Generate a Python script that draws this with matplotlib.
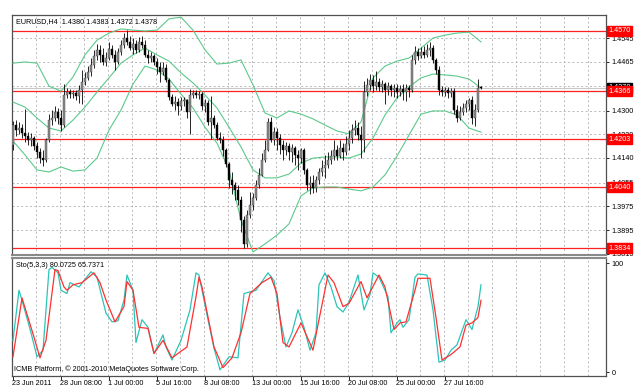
import matplotlib
matplotlib.use("Agg")
import matplotlib.pyplot as plt
import matplotlib.transforms as mtransforms
import numpy as np

plt.rcParams['font.family'] = ['Liberation Sans', 'DejaVu Sans']

# ---- EURUSD H4 candles (prices in pips, 1 pip = 0.0001) ----
opens = [14183,14251,14234,14241,14224,14214,14200,14207,14180,14160,14139,14133,14200,14268,14275,14295,14275,14251,14353,14363,
         14356,14360,14350,14370,14397,14411,14431,14455,14485,14506,14489,14465,14478,14509,14489,14465,14499,14522,14546,14533,
         14512,14526,14506,14533,14522,14489,14478,14485,14465,14448,14431,14444,14404,14346,14322,14329,14316,14333,14336,14295,
         14353,14360,14353,14356,14316,14326,14261,14275,14251,14207,14200,14166,14119,14065,14048,14031,13997,13929,13848,13946,
         13980,14004,14048,14082,14133,14166,14261,14200,14227,14207,14183,14166,14180,14160,14173,14150,14139,14166,14099,14048,
         14055,14038,14065,14092,14105,14116,14133,14146,14166,14146,14173,14160,14187,14207,14234,14241,14217,14200,14363,14387,
         14404,14383,14397,14380,14390,14370,14383,14370,14377,14363,14373,14363,14377,14370,14472,14499,14485,14499,14489,14506,
         14512,14472,14438,14370,14363,14370,14360,14366,14302,14275,14295,14309,14322,14336,14275,14302,14380]
highs = [14265,14268,14261,14255,14305,14227,14224,14214,14194,14173,14166,14207,14288,14302,14316,14309,14302,14390,14377,14373,
         14370,14370,14387,14438,14431,14451,14478,14506,14526,14522,14512,14499,14533,14522,14506,14512,14539,14563,14573,14553,
         14546,14539,14550,14553,14539,14506,14499,14492,14478,14465,14465,14458,14411,14356,14350,14343,14346,14346,14339,14373,
         14370,14370,14366,14363,14339,14336,14350,14285,14261,14227,14214,14173,14126,14092,14058,14048,14011,13943,13963,14024,
         14021,14065,14105,14156,14200,14275,14278,14244,14241,14221,14200,14194,14190,14187,14180,14166,14173,14173,14105,14078,
         14082,14078,14105,14133,14150,14160,14166,14200,14183,14200,14190,14214,14234,14255,14268,14261,14248,14400,14411,14424,
         14421,14434,14411,14404,14397,14397,14390,14390,14390,14387,14390,14390,14387,14489,14519,14512,14516,14519,14526,14533,
         14522,14478,14451,14383,14380,14380,14377,14377,14319,14316,14326,14336,14343,14350,14322,14407,14383]
lows = [14166,14214,14221,14207,14194,14183,14180,14166,14139,14122,14112,14126,14194,14251,14265,14255,14231,14244,14343,14343,
        14343,14336,14326,14322,14387,14404,14417,14444,14472,14465,14455,14451,14472,14478,14438,14458,14489,14512,14522,14506,
        14492,14495,14499,14512,14482,14461,14465,14455,14424,14397,14421,14397,14336,14316,14302,14285,14302,14316,14275,14221,
        14343,14343,14339,14302,14295,14251,14204,14241,14200,14190,14146,14109,14038,14017,13997,13980,13889,13834,13838,13936,
        13963,13997,14038,14078,14126,14163,14194,14183,14166,14153,14133,14150,14133,14126,14116,14099,14122,14085,14031,14017,
        14021,14024,14051,14078,14072,14105,14119,14133,14133,14139,14133,14150,14166,14190,14217,14200,14139,14160,14350,14370,
        14363,14370,14366,14363,14322,14353,14350,14346,14343,14350,14336,14333,14346,14363,14458,14472,14478,14478,14482,14485,
        14461,14424,14353,14350,14350,14343,14346,14288,14261,14268,14285,14295,14302,14255,14248,14295,14372]
closes = [14251,14234,14241,14224,14214,14200,14207,14180,14160,14139,14133,14200,14268,14275,14295,14275,14251,14353,14363,14356,
          14360,14350,14370,14397,14411,14431,14455,14485,14506,14489,14465,14478,14509,14489,14465,14499,14522,14546,14533,14512,
          14526,14506,14533,14522,14489,14478,14485,14465,14448,14431,14444,14404,14346,14322,14329,14316,14333,14336,14295,14353,
          14360,14353,14356,14316,14326,14261,14275,14251,14207,14200,14166,14119,14065,14048,14031,13997,13929,13848,13946,13980,
          14004,14048,14082,14133,14166,14261,14200,14227,14207,14183,14166,14180,14160,14173,14150,14139,14166,14099,14048,14055,
          14038,14065,14092,14105,14116,14133,14146,14166,14146,14173,14160,14187,14207,14234,14241,14217,14200,14363,14387,14404,
          14383,14397,14380,14390,14370,14383,14370,14377,14363,14373,14363,14377,14370,14472,14499,14485,14499,14489,14506,14512,
          14472,14438,14370,14363,14370,14360,14366,14302,14275,14295,14309,14322,14336,14275,14302,14377,14378]

# ---- Bollinger bands read every 4 bars (pips) ----
bb_idx = list(range(0, 157, 4))
bb_upper = [14461,14465,14461,14383,14366,14414,14489,14539,14563,14577,14573,14570,14573,14611,14617,14573,14506,14458,14461,14472,
            14387,14292,14275,14299,14288,14272,14251,14231,14221,14261,14411,14451,14468,14478,14512,14546,14556,14563,14566,14533]
bb_middle = [14329,14312,14275,14241,14231,14268,14312,14363,14411,14461,14489,14512,14489,14468,14428,14394,14353,14309,14244,14177,
             14099,14072,14072,14085,14122,14139,14143,14143,14139,14153,14207,14285,14343,14380,14411,14424,14421,14417,14407,14377]
bb_lower = [14197,14150,14099,14092,14109,14095,14099,14139,14234,14302,14390,14451,14438,14407,14356,14309,14244,14190,14099,13929,
            13821,13848,13878,13916,14011,14038,14041,14041,14034,14028,14041,14082,14146,14217,14288,14299,14299,14285,14241,14227]

# ---- Stochastic (5,3,3) key points ----
k_idx = [0,2,3,6,8,10,12,13,15,16,18,19,22,26,28,31,33,35,37,38,40,41,43,45,47,50,51,53,56,59,61,62,65,67,69,72,75,77,81,85,87,89,
         91,93,95,97,99,101,102,104,106,108,110,112,115,117,119,120,122,125,126,128,129,130,132,134,135,138,140,142,144,146,148,151,153,155,156]
k_val = [29,75,66,36,14,20,94,96,91,75,72,82,78,92,87,54,46,47,66,89,75,27,48,41,17,34,23,11,29,57,91,89,48,22,2,14,13,72,75,91,84,50,
         23,36,57,41,20,36,80,91,78,60,55,64,89,57,71,91,87,69,36,45,48,41,48,87,90,89,57,9,11,20,25,48,39,60,80.07]
d_idx = [0,3,7,9,11,14,15,17,18,20,23,27,29,31,34,37,38,40,42,45,47,50,53,58,61,62,63,67,70,73,76,79,83,86,88,90,92,96,100,102,105,107,
         110,112,116,118,122,124,127,129,131,134,135,139,141,143,146,149,151,153,155,156]
d_val = [14,68,32,13,29,94,93,78,75,80,82,91,82,66,46,60,83,75,41,40,17,29,13,23,69,87,78,23,4,13,36,72,82,87,72,27,23,45,20,48,89,82,
         60,63,83,68,89,78,39,45,46,75,86,86,50,11,16,23,43,45,50,65.74]

# ---- levels and axis labels ----
levels = [1.4570, 1.4366, 1.4203, 1.4040, 1.3834]
price_ticks = [1.4545, 1.4465, 1.4385, 1.4300, 1.4220, 1.4140, 1.4055, 1.3975, 1.3895, 1.3815]
price_labels = ["1.4545", "1.4465", "", "1.4300", "1.4220", "1.4140", "1.4055", "1.3975", "1.3895", "1.3815"]
last_price = 1.4378
date_pos = [0, 16, 32, 48, 64, 80, 96, 112, 128, 144]
date_labels = ["23 Jun 2011", "28 Jun 08:00", "1 Jul 00:00", "5 Jul 16:00", "8 Jul 08:00",
               "13 Jul 00:00", "15 Jul 16:00", "20 Jul 08:00", "25 Jul 00:00", "27 Jul 16:00"]

o = np.array(opens) / 1e4
h = np.array(highs) / 1e4
l = np.array(lows) / 1e4
c = np.array(closes) / 1e4
x = np.arange(len(c))

W, H = 640, 392
fig = plt.figure(figsize=(6.4, 3.92), dpi=100)
fig.patch.set_facecolor('white')
ax = fig.add_axes([12 / W, 1 - 255 / H, 594 / W, 240 / H])
sub = fig.add_axes([12 / W, 1 - 376 / H, 594 / W, 118 / H])

XMIN, XMAX = -0.33, 197.67
FS = 5.2
grid_kw = dict(color='#b8b8b8', lw=0.7, ls=(0, (2, 2.5)), zorder=0)
vgrid = [8 * k - 0.33 for k in range(1, 25)]

# main pane
ax.set_xlim(XMIN, XMAX)
ax.set_ylim(1.381055, 1.46242)
for gx in vgrid:
    ax.axvline(gx, **grid_kw)
for gy in price_ticks:
    ax.axhline(gy, **grid_kw)

ax.axhline(last_price, color='#c8c8c8', lw=0.8, zorder=1)
for lv in levels:
    ax.axhline(lv, color='#ff2020', lw=0.9, zorder=2)

bb_x = np.array(bb_idx)
green = '#5cc98a'
ax.plot(bb_x, np.array(bb_upper) / 1e4, color=green, lw=0.8, zorder=3)
ax.plot(bb_x, np.array(bb_middle) / 1e4, color=green, lw=0.8, zorder=3)
ax.plot(bb_x, np.array(bb_lower) / 1e4, color=green, lw=0.8, zorder=3)

ax.vlines(x, l, h, color='black', lw=0.6, zorder=4)
bull = c >= o
body_bot = np.minimum(o, c)
body_h = np.maximum(np.abs(c - o), 0.00008)
ax.bar(x[bull], body_h[bull], bottom=body_bot[bull], width=0.7, color='#8c8c8c',
       edgecolor='#404040', lw=0.3, zorder=5)
ax.bar(x[~bull], body_h[~bull], bottom=body_bot[~bull], width=0.7, color='black',
       edgecolor='black', lw=0.3, zorder=5)

ax.yaxis.tick_right()
ax.set_yticks(price_ticks)
ax.set_yticklabels(price_labels, fontsize=FS)
ax.tick_params(axis='y', length=2, pad=2, width=0.6, colors='black')
ax.set_xticks([])
for s in ['left', 'right', 'top']:
    ax.spines[s].set_color('#505050')
    ax.spines[s].set_linewidth(0.9)
ax.spines['bottom'].set_color('#8a8a8a')
ax.spines['bottom'].set_linewidth(1.5)

trans = mtransforms.blended_transform_factory(ax.transAxes, ax.transData)
ax.text(1.004, last_price, f"{last_price:.4f}", transform=trans, fontsize=FS, color='white',
        va='center', ha='left', zorder=10,
        bbox=dict(boxstyle='square,pad=0.22', fc='black', ec='black'))
for lv in levels:
    ax.text(1.004, lv, f"{lv:.4f}", transform=trans, fontsize=FS, color='white',
            va='center', ha='left', zorder=11,
            bbox=dict(boxstyle='square,pad=0.22', fc='#ff0000', ec='#ff0000'))

ax.text(0.006, 0.972, "EURUSD,H4  1.4380 1.4383 1.4372 1.4378", transform=ax.transAxes,
        fontsize=FS, va='center', ha='left', color='black', zorder=12)

# stochastic pane
sub.set_xlim(XMIN, XMAX)
sub.set_ylim(-3.67, 104.6)
for gx in vgrid:
    sub.axvline(gx, **grid_kw)
sub.plot(k_idx, k_val, color='#2cc4b8', lw=0.9, zorder=3)
sub.plot(d_idx, d_val, color='#ff3030', lw=0.9, zorder=4)
sub.yaxis.tick_right()
sub.set_yticks([100, 0])
sub.set_yticklabels(["100", "0"], fontsize=FS)
sub.tick_params(axis='y', length=2, pad=2, width=0.6)
sub.set_xticks(date_pos)
sub.set_xticklabels([])
sub.tick_params(axis='x', length=3, width=0.6, direction='out')
for s in ['left', 'right', 'bottom']:
    sub.spines[s].set_color('#505050')
    sub.spines[s].set_linewidth(0.9)
sub.spines['top'].set_color('#8a8a8a')
sub.spines['top'].set_linewidth(1.5)

sub.text(0.006, 0.935, "Sto(5,3,3) 80.0725 65.7371", transform=sub.transAxes,
         fontsize=FS, va='center', ha='left')
sub.text(0.004, 0.06, "ICMB Platform, \u00a9 2001-2010 MetaQuotes Software Corp.", transform=sub.transAxes,
         fontsize=FS, va='center', ha='left')

tx = mtransforms.blended_transform_factory(sub.transData, sub.transAxes)
for p, lab in zip(date_pos, date_labels):
    sub.text(p - 0.4, -0.035, lab, transform=tx, fontsize=FS, va='top', ha='left')

fig.savefig("out.png", dpi=100, facecolor='white')
